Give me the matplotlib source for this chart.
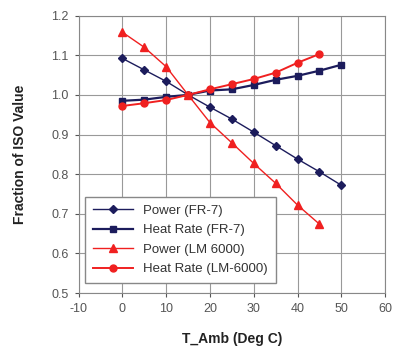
import matplotlib
matplotlib.use("Agg")
import matplotlib.pyplot as plt

plt.rcParams['font.family'] = ['Liberation Sans', 'DejaVu Sans']
plt.rcParams['axes.unicode_minus'] = False

# data
t_fr7 = [0, 5, 10, 15, 20, 25, 30, 35, 40, 45, 50]
power_fr7 = [1.092, 1.063, 1.034, 1.0, 0.969, 0.939, 0.906, 0.872, 0.838, 0.806, 0.772]
heat_fr7 = [0.985, 0.988, 0.995, 1.0, 1.011, 1.014, 1.025, 1.038, 1.048, 1.061, 1.076]

t_lm = [0, 5, 10, 15, 20, 25, 30, 35, 40, 45]
power_lm = [1.158, 1.120, 1.071, 1.0, 0.930, 0.879, 0.827, 0.777, 0.722, 0.674]
heat_lm = [0.972, 0.979, 0.987, 1.0, 1.014, 1.027, 1.040, 1.056, 1.081, 1.103]

navy = '#1c1c5c'
red = '#f02020'

fig = plt.figure(figsize=(3.93, 3.54), dpi=100)
ax = fig.add_axes([0.2, 0.172, 0.78, 0.784])

ax.plot(t_fr7, power_fr7, color=navy, lw=1.0, marker='D', ms=4, label='Power (FR-7)')
ax.plot(t_fr7, heat_fr7, color=navy, lw=1.6, marker='s', ms=5, label='Heat Rate (FR-7)')
ax.plot(t_lm, power_lm, color=red, lw=1.0, marker='^', ms=5.5, label='Power (LM 6000)')
ax.plot(t_lm, heat_lm, color=red, lw=1.4, marker='o', ms=5, label='Heat Rate (LM-6000)')

ax.set_xlim(-10, 60)
ax.set_ylim(0.5, 1.2)
ax.set_xticks(range(-10, 61, 10))
ax.set_yticks([0.5, 0.6, 0.7, 0.8, 0.9, 1.0, 1.1, 1.2])
ax.set_yticklabels(['%.1f' % v for v in [0.5, 0.6, 0.7, 0.8, 0.9, 1.0, 1.1, 1.2]])
ax.grid(True, color='#999999', lw=0.8)
ax.set_axisbelow(True)
for s in ax.spines.values():
    s.set_color('#888888')
ax.tick_params(labelsize=9, colors='#555555', length=3, pad=4)

ax.set_xlabel('T_Amb (Deg C)', fontsize=10, fontweight='bold', labelpad=12, color='#222222')
ax.set_ylabel('Fraction of ISO Value', fontsize=10, fontweight='bold', labelpad=18, color='#222222')

leg = ax.legend(loc='lower left', fontsize=9.5, fancybox=False, framealpha=1,
                edgecolor='#888888', borderpad=0.6, handlelength=3.0,
                labelspacing=0.55, borderaxespad=0,
                bbox_to_anchor=(0.021, 0.036))
for t in leg.get_texts():
    t.set_color('#333333')

fig.savefig('out.png', dpi=100)
